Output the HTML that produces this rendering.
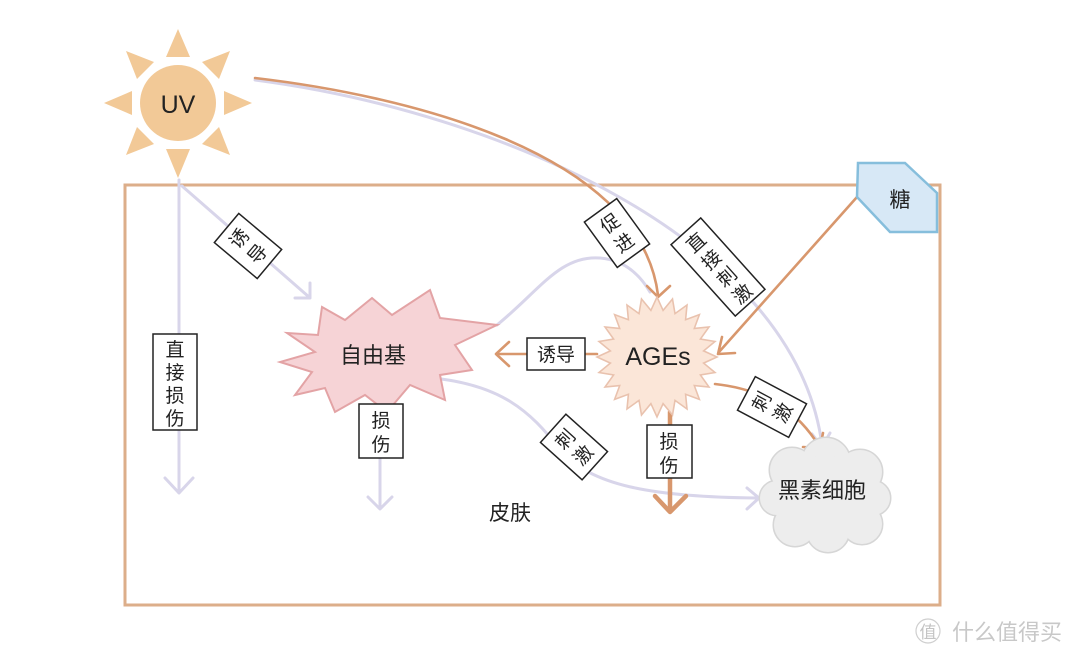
<!DOCTYPE html>
<html>
<head>
<meta charset="utf-8">
<style>
html,body{margin:0;padding:0;background:#fff;}
svg{display:block;}
text{font-family:"Liberation Sans","Noto Sans CJK SC",sans-serif;fill:#222;}
</style>
</head>
<body>
<svg width="1080" height="658" viewBox="0 0 1080 658" xmlns="http://www.w3.org/2000/svg">
  <!-- skin box -->
  <rect x="125" y="185" width="815" height="420" fill="#fff" stroke="#dcae8a" stroke-width="3"/>

  <!-- sun -->
  <g fill="#f2c997">
    <polygon points="178,29 166,57 190,57"/>
    <polygon points="178,178 166,149 190,149"/>
    <polygon points="104,103 132,91 132,115"/>
    <polygon points="252,103 224,91 224,115"/>
    <polygon points="126,51 154,62 137,79"/>
    <polygon points="230,51 219,79 202,62"/>
    <polygon points="126,155 137,127 154,144"/>
    <polygon points="230,155 219,127 202,144"/>
    <circle cx="178" cy="103" r="38"/>
  </g>
  <text x="178" y="113" font-size="25" text-anchor="middle" fill="#333">UV</text>

  <!-- lavender connectors -->
  <g fill="none" stroke="#d8d5ea" stroke-width="3" stroke-linecap="round" stroke-linejoin="round">
    <line x1="179" y1="180" x2="179" y2="492"/>
    <polyline points="165,478 179,493 193,478"/>
    <line x1="182" y1="186" x2="309" y2="297"/>
    <polyline points="295,298 310,298 310,283"/>
    <path d="M255,80 C500,112 795,240 822,445"/>
    <polyline points="812,434 822,447 830,433"/>
    <path d="M497,325 C540,290 560,255 600,258 C625,260 640,275 650,292"/>
    <path d="M433,378 C500,385 530,410 560,450 C590,485 650,497 757,498"/>
    <polyline points="747,488 759,498 747,509"/>
    <line x1="380" y1="410" x2="380" y2="508"/>
    <polyline points="368,497 380,509 392,497"/>
  </g>

  <!-- orange connectors -->
  <g fill="none" stroke="#d8976d" stroke-width="2.6" stroke-linecap="round" stroke-linejoin="round">
    <path d="M255,78 C400,95 640,150 658,295"/>
    <polyline points="647,286 658,297 670,286"/>
    <line x1="597" y1="354" x2="498" y2="354"/>
    <polyline points="509,342 496,354 509,366"/>
    <line x1="857" y1="197" x2="719" y2="352"/>
    <polyline points="722,337 718,354 735,353"/>
    <path d="M715,384 C770,390 800,415 819,446"/>
    <polyline points="803,447 820,448 823,433"/>
  </g>
  <g fill="none" stroke="#d8976d" stroke-width="4.5" stroke-linecap="round" stroke-linejoin="round">
    <line x1="670" y1="412" x2="670" y2="511"/>
    <polyline points="655,496 670,512 686,496"/>
  </g>

  <!-- 自由基 -->
  <polygon points="287,333 318,335 322,307 345,320 372,298 392,315 430,290 440,318 497,325 455,345 472,370 440,375 445,400 410,385 387,412 365,395 335,412 325,388 295,395 312,372 280,362 315,352" fill="#f6d3d6" stroke="#e3a3a5" stroke-width="2" stroke-linejoin="miter"/>
  <text x="373" y="363" font-size="22" text-anchor="middle">自由基</text>

  <!-- AGEs -->
  <polygon fill="#fbe6d8" stroke="#e9c2ae" stroke-width="1.6" points="717,357 703.6,363.1 715,372.5 700.4,375 709,387 694.3,385.6 699.4,399.4 685.6,394.3 687,409 675,400.4 672.5,415 663.1,403.6 657,417 650.9,403.6 641.5,415 639,400.4 627,409 628.4,394.3 614.6,399.4 619.7,385.6 605,387 613.6,375 599,372.5 610.4,363.1 597,357 610.4,350.9 599,341.5 613.6,339 605,327 619.7,328.4 614.6,314.6 628.4,319.7 627,305 639,313.6 641.5,299 650.9,310.4 657,297 663.1,310.4 672.5,299 675,313.6 687,305 685.6,319.7 699.4,314.6 694.3,328.4 709,327 700.4,339 715,341.5 703.6,350.9"/>
  <text x="658" y="365" font-size="25" text-anchor="middle">AGEs</text>

  <!-- 糖 -->
  <polygon points="858,163 905,163 937,193 937,232 890,232 857,197" fill="#d7e8f6" stroke="#86bedc" stroke-width="2.5"/>
  <text x="900" y="207" font-size="21" text-anchor="middle">糖</text>

  <!-- cloud 黑素细胞 -->
  <g stroke="#d6d6d6" stroke-width="3" fill="#d6d6d6">
    <circle cx="792" cy="470" r="22"/>
    <circle cx="826" cy="462" r="24"/>
    <circle cx="860" cy="472" r="22"/>
    <circle cx="873" cy="498" r="17"/>
    <circle cx="862" cy="524" r="20"/>
    <circle cx="828" cy="531" r="21"/>
    <circle cx="795" cy="525" r="21"/>
    <circle cx="777" cy="498" r="17"/>
  </g>
  <g fill="#ededed">
    <circle cx="792" cy="470" r="22"/>
    <circle cx="826" cy="462" r="24"/>
    <circle cx="860" cy="472" r="22"/>
    <circle cx="873" cy="498" r="17"/>
    <circle cx="862" cy="524" r="20"/>
    <circle cx="828" cy="531" r="21"/>
    <circle cx="795" cy="525" r="21"/>
    <circle cx="777" cy="498" r="17"/>
    <circle cx="825" cy="495" r="40"/>
  </g>
  <text x="822" y="498" font-size="22" text-anchor="middle">黑素细胞</text>

  <!-- labels -->
  <g font-size="19">
    <rect x="153" y="334" width="44" height="96" fill="#fff" stroke="#222" stroke-width="1.5"/>
    <text x="175" y="356" text-anchor="middle">直</text>
    <text x="175" y="379" text-anchor="middle">接</text>
    <text x="175" y="402" text-anchor="middle">损</text>
    <text x="175" y="425" text-anchor="middle">伤</text>

    <rect x="359" y="404" width="44" height="54" fill="#fff" stroke="#222" stroke-width="1.5"/>
    <text x="381" y="427" text-anchor="middle">损</text>
    <text x="381" y="451" text-anchor="middle">伤</text>

    <rect x="647" y="425" width="45" height="53" fill="#fff" stroke="#222" stroke-width="1.5"/>
    <text x="669" y="448" text-anchor="middle">损</text>
    <text x="669" y="472" text-anchor="middle">伤</text>

    <rect x="527" y="338" width="58" height="32" fill="#fff" stroke="#222" stroke-width="1.5"/>
    <text x="556" y="361" text-anchor="middle">诱导</text>

    <g transform="translate(248,246) rotate(-50)">
      <rect x="-19" y="-28" width="38" height="56" fill="#fff" stroke="#222" stroke-width="1.5"/>
      <text x="0" y="-5" text-anchor="middle">诱</text>
      <text x="0" y="19" text-anchor="middle">导</text>
    </g>
    <g transform="translate(617,233) rotate(-36)">
      <rect x="-20" y="-28" width="40" height="56" fill="#fff" stroke="#222" stroke-width="1.5"/>
      <text x="0" y="-5" text-anchor="middle">促</text>
      <text x="0" y="19" text-anchor="middle">进</text>
    </g>
    <g transform="translate(718,267) rotate(-42)">
      <rect x="-20" y="-48" width="40" height="96" fill="#fff" stroke="#222" stroke-width="1.5"/>
      <text x="0" y="-26" text-anchor="middle">直</text>
      <text x="0" y="-3" text-anchor="middle">接</text>
      <text x="0" y="20" text-anchor="middle">刺</text>
      <text x="0" y="43" text-anchor="middle">激</text>
    </g>
    <g transform="translate(772,407) rotate(-62)">
      <rect x="-19" y="-29" width="38" height="58" fill="#fff" stroke="#222" stroke-width="1.5"/>
      <text x="0" y="-5" text-anchor="middle">刺</text>
      <text x="0" y="19" text-anchor="middle">激</text>
    </g>
    <g transform="translate(574,447) rotate(-48)">
      <rect x="-19" y="-28" width="38" height="56" fill="#fff" stroke="#222" stroke-width="1.5"/>
      <text x="0" y="-5" text-anchor="middle">刺</text>
      <text x="0" y="19" text-anchor="middle">激</text>
    </g>
  </g>

  <text x="510" y="520" font-size="21" text-anchor="middle">皮肤</text>

  <!-- watermark -->
  <circle cx="928" cy="631" r="12" fill="none" stroke="#cfcfcf" stroke-width="1.2"/>
  <text x="928" y="638" font-size="17" text-anchor="middle" style="fill:#c4c4c4">值</text>
  <text x="952" y="640" font-size="22" style="fill:#c8c8c8">什么值得买</text>
</svg>
</body>
</html>
